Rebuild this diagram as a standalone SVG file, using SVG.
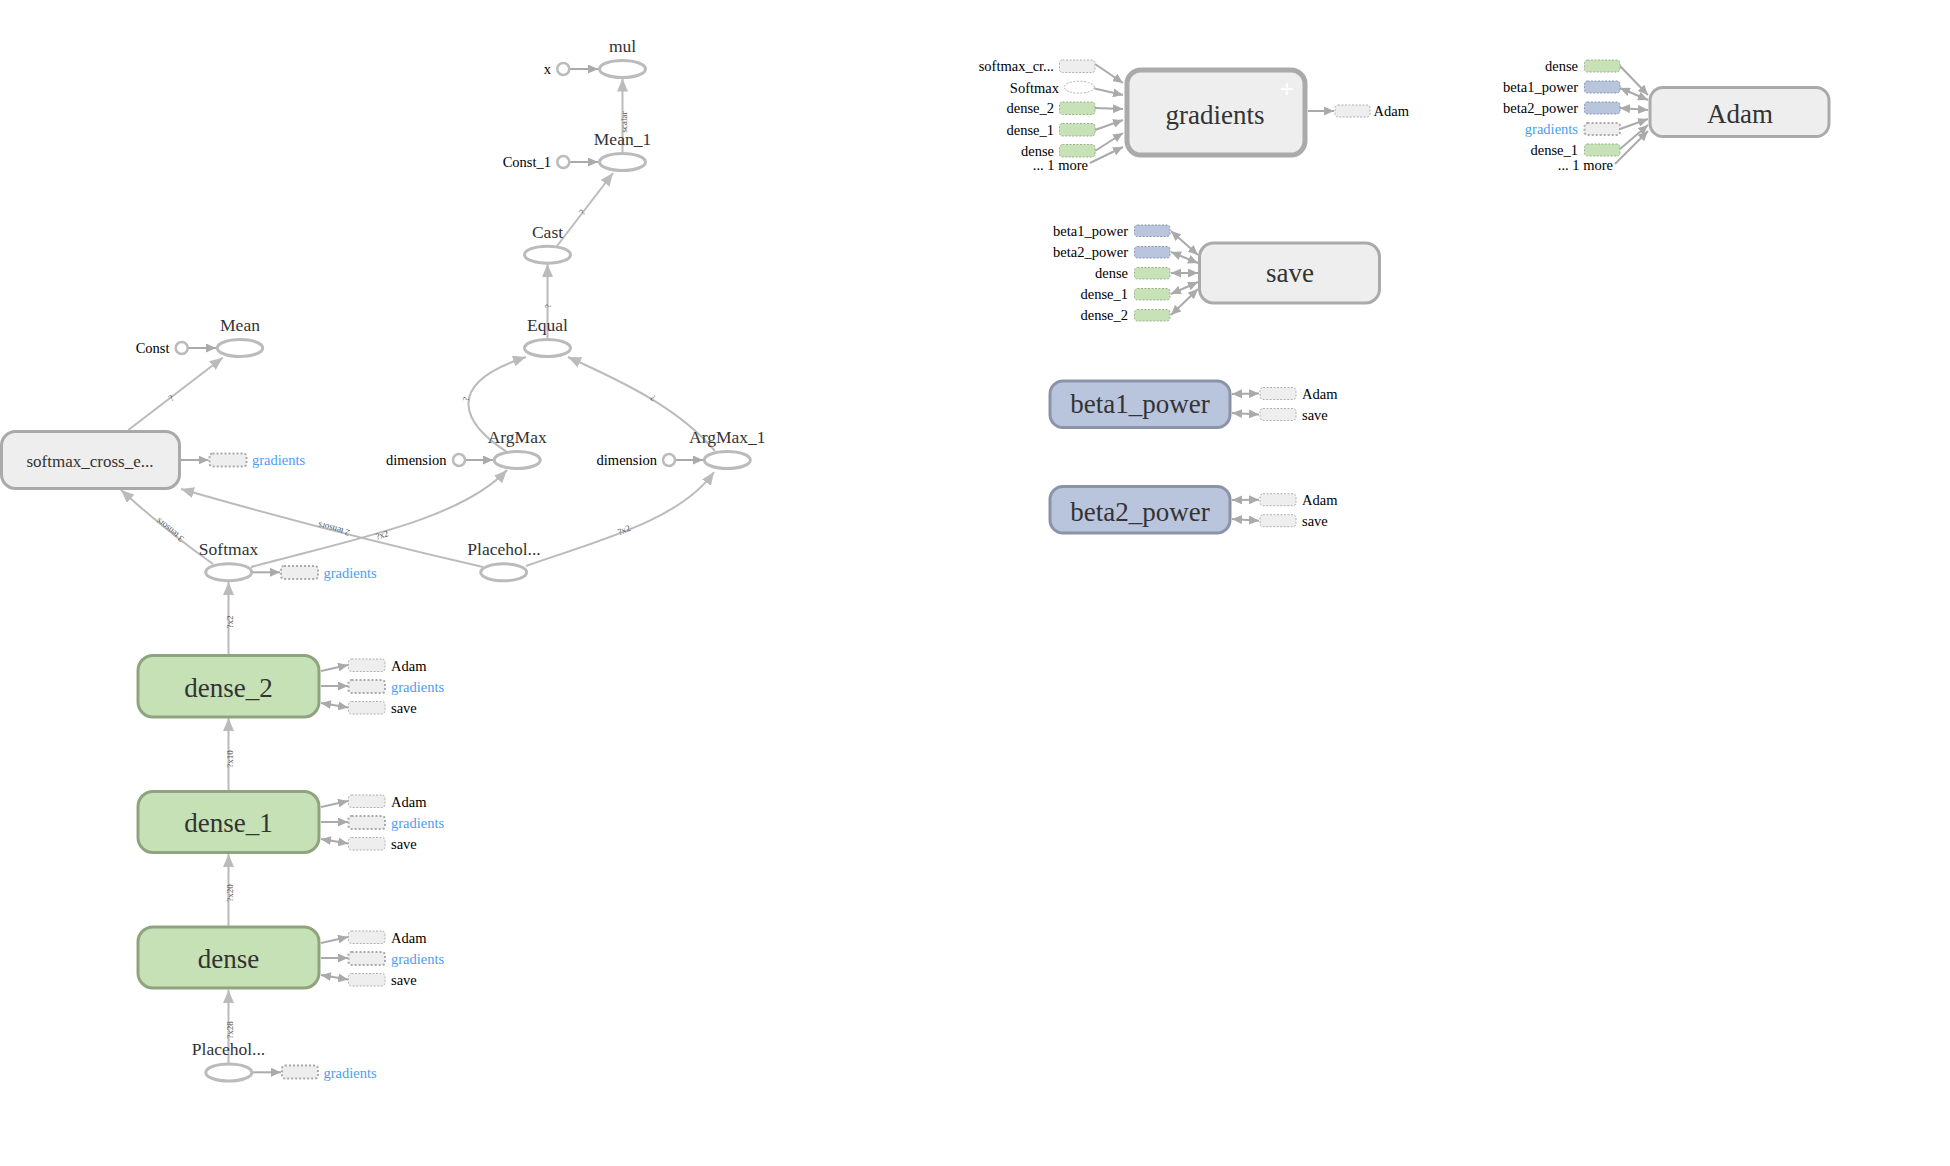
<svg xmlns="http://www.w3.org/2000/svg" width="1950" height="1166" viewBox="0 0 1950 1166">
<style>
text{font-family:"Liberation Serif","Times New Roman",serif}
.nl{font-size:17.5px;fill:#333;text-anchor:middle}
.bl{font-size:27px;fill:#333;text-anchor:middle}
.sl{font-size:14.5px;fill:#000}
.sr{font-size:14.5px;fill:#000;text-anchor:end}
.gb{fill:#4a9df7}
.el{font-size:9px;fill:#555;text-anchor:middle;dominant-baseline:central}
.e{fill:none;stroke:#bbb;stroke-width:2}
.es{fill:none;stroke:#aaa;stroke-width:2}
.op{fill:#fff;stroke:#bbb;stroke-width:3}
.cst{fill:#fff;stroke:#bbb;stroke-width:2.5}
.grey{fill:#eee;stroke:#aaa;stroke-width:3}
.green{fill:#c5e1b5;stroke:#8ea37e;stroke-width:3}
.blue{fill:#b9c4dd;stroke:#8a93a8;stroke-width:3}
.stub{fill:#eee;stroke:#b0b0b0;stroke-width:1;stroke-dasharray:2 1.5}
.stubg{fill:#eee;stroke:#aaa;stroke-width:2;stroke-dasharray:2 2}
.stubgr{fill:#c6e2b6;stroke:#9cb08e;stroke-width:1;stroke-dasharray:2 1.5}
.stubbl{fill:#b9c4dd;stroke:#8c96ae;stroke-width:1;stroke-dasharray:2 1.5}
</style>
<defs>
<marker id="ah" viewBox="0 0 10 10" refX="10" refY="5" markerWidth="13" markerHeight="11" markerUnits="userSpaceOnUse" orient="auto" preserveAspectRatio="none"><path d="M0,0 L10,5 L0,10 z" fill="#bbb"/></marker>
<marker id="as" viewBox="0 0 10 10" refX="10" refY="5" markerWidth="10" markerHeight="9" markerUnits="userSpaceOnUse" orient="auto-start-reverse" preserveAspectRatio="none"><path d="M0,0 L10,5 L0,10 z" fill="#aaa"/></marker>
</defs>
<rect width="1950" height="1166" fill="#fff"/>

<g id="connectors">
<path class="e" d="M622.5 153 L622.5 78.5" marker-end="url(#ah)"/>
<text class="el" transform="translate(624,122) rotate(-90)">scalar</text>
<path class="e" d="M557 246 L613 173" marker-end="url(#ah)"/>
<text class="el" transform="translate(582,212) rotate(-52)">?</text>
<path class="e" d="M547.5 339 L547.5 264" marker-end="url(#ah)"/>
<text class="el" transform="translate(548,306) rotate(-90)">?</text>
<path class="e" d="M507 452 C465 425,440 385,526 357" marker-end="url(#ah)"/>
<text class="el" transform="translate(466,399) rotate(-80)">?</text>
<path class="e" d="M715 451 C680 410,630 385,568 357" marker-end="url(#ah)"/>
<text class="el" transform="translate(653,398) rotate(-150)">?</text>
<path class="e" d="M128.3 430 L222.7 357.7" marker-end="url(#ah)"/>
<text class="el" transform="translate(171,398) rotate(-37)">?</text>
<path class="e" d="M213 564 Q165 530 121 490" marker-end="url(#ah)"/>
<text class="el" transform="translate(170,530) rotate(-141)">3 tensors</text>
<path class="e" d="M483 567 Q330 532 181 489" marker-end="url(#ah)"/>
<text class="el" transform="translate(334,529) rotate(-165)">2 tensors</text>
<path class="e" d="M251 567 C350 540,460 520,507 470" marker-end="url(#ah)"/>
<text class="el" transform="translate(382,535) rotate(-17)">?x2</text>
<path class="e" d="M526 566 C600 540,680 520,714 472" marker-end="url(#ah)"/>
<text class="el" transform="translate(624,530) rotate(-23)">?x2</text>
<path class="e" d="M228.5 654 L228.5 582" marker-end="url(#ah)"/>
<text class="el" transform="translate(230,622) rotate(-90)">?x2</text>
<path class="e" d="M228.5 790 L228.5 718" marker-end="url(#ah)"/>
<text class="el" transform="translate(230,759) rotate(-90)">?x10</text>
<path class="e" d="M228.5 926 L228.5 854" marker-end="url(#ah)"/>
<text class="el" transform="translate(230,893) rotate(-90)">?x20</text>
<path class="e" d="M228.5 1063 L228.5 990" marker-end="url(#ah)"/>
<text class="el" transform="translate(230,1030) rotate(-90)">?x28</text>
<path class="es" d="M569.5 69 L598 69" marker-end="url(#as)"/>
<path class="es" d="M569.5 162 L598 162" marker-end="url(#as)"/>
<path class="es" d="M188 348 L216 348" marker-end="url(#as)"/>
<path class="es" d="M465.5 460 L493 460" marker-end="url(#as)"/>
<path class="es" d="M675.5 460 L703 460" marker-end="url(#as)"/>
<path class="es" d="M181 460 L208.5 460" marker-end="url(#as)"/>
<path class="es" d="M252 572.3 L280 572.3" marker-end="url(#as)"/>
<path class="es" d="M252 1072.3 L281 1072.3" marker-end="url(#as)"/>
<path class="es" d="M321 671 L348 665" marker-end="url(#as)"/>
<path class="es" d="M321 686 L348 686" marker-end="url(#as)"/>
<path class="es" d="M321 703 L348 707.5" marker-start="url(#as)" marker-end="url(#as)"/>
<path class="es" d="M321 807 L348 801" marker-end="url(#as)"/>
<path class="es" d="M321 822 L348 822" marker-end="url(#as)"/>
<path class="es" d="M321 839 L348 843.5" marker-start="url(#as)" marker-end="url(#as)"/>
<path class="es" d="M321 943 L348 937" marker-end="url(#as)"/>
<path class="es" d="M321 958 L348 958" marker-end="url(#as)"/>
<path class="es" d="M321 975 L348 979.5" marker-start="url(#as)" marker-end="url(#as)"/>
<path class="es" d="M1095 64 L1123 83" marker-end="url(#as)"/>
<path class="es" d="M1094.5 88.5 L1123 95" marker-end="url(#as)"/>
<path class="es" d="M1095 108 L1123 109" marker-end="url(#as)"/>
<path class="es" d="M1095 130 L1123 120" marker-end="url(#as)"/>
<path class="es" d="M1095 151 L1123 133" marker-end="url(#as)"/>
<path class="es" d="M1090 163 L1123 147" marker-end="url(#as)"/>
<path class="es" d="M1308 111 L1334 111" marker-end="url(#as)"/>
<path class="es" d="M1620 66 L1648 95" marker-end="url(#as)"/>
<path class="es" d="M1620 88 L1648 100" marker-start="url(#as)" marker-end="url(#as)"/>
<path class="es" d="M1620 108 L1648 110" marker-start="url(#as)" marker-end="url(#as)"/>
<path class="es" d="M1620 129 L1648 119" marker-end="url(#as)"/>
<path class="es" d="M1620 149 L1648 125" marker-end="url(#as)"/>
<path class="es" d="M1615 164 L1648 131" marker-end="url(#as)"/>
<path class="es" d="M1171 231 L1198 255" marker-start="url(#as)" marker-end="url(#as)"/>
<path class="es" d="M1171 252 L1198 263" marker-start="url(#as)" marker-end="url(#as)"/>
<path class="es" d="M1171 273 L1198 273" marker-start="url(#as)" marker-end="url(#as)"/>
<path class="es" d="M1171 294 L1198 282" marker-start="url(#as)" marker-end="url(#as)"/>
<path class="es" d="M1171 315 L1198 289" marker-start="url(#as)" marker-end="url(#as)"/>
<path class="es" d="M1232 394 L1259 393.5" marker-start="url(#as)" marker-end="url(#as)"/>
<path class="es" d="M1232 413 L1259 414.5" marker-start="url(#as)" marker-end="url(#as)"/>
<path class="es" d="M1232 500 L1259 499.7" marker-start="url(#as)" marker-end="url(#as)"/>
<path class="es" d="M1232 519 L1259 520.7" marker-start="url(#as)" marker-end="url(#as)"/>
</g>

<g id="node-mul">
<ellipse class="op" cx="622.5" cy="69" rx="23" ry="8.5"/>
<text class="nl" x="622.5" y="51.5">mul</text>
<circle class="cst" cx="563.3" cy="69" r="6"/>
<text class="sr" x="551" y="74">x</text>
</g>
<g id="node-Mean_1">
<ellipse class="op" cx="622.5" cy="162" rx="23" ry="8.5"/>
<text class="nl" x="622.5" y="144.5">Mean_1</text>
<circle class="cst" cx="563.3" cy="162" r="6"/>
<text class="sr" x="551" y="167">Const_1</text>
</g>
<g id="node-Cast">
<ellipse class="op" cx="547.5" cy="254.7" rx="23" ry="8.5"/>
<text class="nl" x="547.5" y="237.5">Cast</text>
</g>
<g id="node-Equal">
<ellipse class="op" cx="547.5" cy="348" rx="23" ry="8.5"/>
<text class="nl" x="547.5" y="330.5">Equal</text>
</g>
<g id="node-Mean">
<ellipse class="op" cx="240" cy="348" rx="22.7" ry="8.5"/>
<text class="nl" x="240" y="330.5">Mean</text>
<circle class="cst" cx="181.7" cy="348" r="6"/>
<text class="sr" x="169.5" y="353">Const</text>
</g>
<g id="node-ArgMax">
<ellipse class="op" cx="517.2" cy="460" rx="23" ry="8.5"/>
<text class="nl" x="517.2" y="442.5">ArgMax</text>
<circle class="cst" cx="459" cy="460" r="6"/>
<text class="sr" x="446.5" y="465">dimension</text>
</g>
<g id="node-ArgMax_1">
<ellipse class="op" cx="727.3" cy="460" rx="23" ry="8.5"/>
<text class="nl" x="727.3" y="442.5">ArgMax_1</text>
<circle class="cst" cx="669" cy="460" r="6"/>
<text class="sr" x="657" y="465">dimension</text>
</g>
<g id="node-softmax_cross_entropy">
<rect class="grey" x="1.5" y="431.5" width="178" height="57" rx="14"/>
<text x="90" y="467" style="font-size:17px;fill:#333;text-anchor:middle">softmax_cross_e...</text>
<rect class="stubg" x="209.5" y="453.5" width="37" height="13" rx="3"/>
<text class="sl gb" x="252" y="465">gradients</text>
</g>
<g id="node-Softmax">
<ellipse class="op" cx="228.7" cy="572.2" rx="23" ry="8.5"/>
<text class="nl" x="228.5" y="554.8">Softmax</text>
<rect class="stubg" x="281" y="566" width="37" height="13" rx="3"/>
<text class="sl gb" x="323.5" y="577.5">gradients</text>
</g>
<g id="node-Placeholder_1">
<ellipse class="op" cx="503.7" cy="572.3" rx="23" ry="8.5"/>
<text class="nl" x="504" y="554.8">Placehol...</text>
</g>
<g id="node-dense_2">
<rect class="green" x="138" y="655.5" width="181" height="61.5" rx="15"/>
<text class="bl" x="228.5" y="697">dense_2</text>
<rect class="stub" x="348.5" y="659" width="36.5" height="12.5" rx="3"/>
<rect class="stubg" x="348.5" y="680" width="36.5" height="13" rx="3"/>
<rect class="stub" x="348.5" y="701.5" width="36.5" height="12.5" rx="3"/>
<text class="sl" x="391" y="670.5">Adam</text>
<text class="sl gb" x="391" y="691.5">gradients</text>
<text class="sl" x="391" y="712.5">save</text>
</g>
<g id="node-dense_1">
<rect class="green" x="138" y="791.5" width="181" height="61" rx="15"/>
<text class="bl" x="228.5" y="832">dense_1</text>
<rect class="stub" x="348.5" y="795" width="36.5" height="12.5" rx="3"/>
<rect class="stubg" x="348.5" y="816" width="36.5" height="13" rx="3"/>
<rect class="stub" x="348.5" y="837.5" width="36.5" height="12.5" rx="3"/>
<text class="sl" x="391" y="806.5">Adam</text>
<text class="sl gb" x="391" y="827.5">gradients</text>
<text class="sl" x="391" y="848.5">save</text>
</g>
<g id="node-dense">
<rect class="green" x="138" y="927" width="181" height="61" rx="15"/>
<text class="bl" x="228.5" y="968">dense</text>
<rect class="stub" x="348.5" y="931" width="36.5" height="12.5" rx="3"/>
<rect class="stubg" x="348.5" y="952" width="36.5" height="13" rx="3"/>
<rect class="stub" x="348.5" y="973.5" width="36.5" height="12.5" rx="3"/>
<text class="sl" x="391" y="942.5">Adam</text>
<text class="sl gb" x="391" y="963.5">gradients</text>
<text class="sl" x="391" y="984.5">save</text>
</g>
<g id="node-Placeholder">
<ellipse class="op" cx="228.8" cy="1072.5" rx="23" ry="8.5"/>
<text class="nl" x="228.5" y="1055">Placehol...</text>
<rect class="stubg" x="282" y="1065.5" width="36" height="13" rx="3"/>
<text class="sl gb" x="323.5" y="1077.5">gradients</text>
</g>

<g id="node-gradients">
<rect class="grey" x="1127" y="70" width="178" height="85" rx="14" style="stroke-width:5"/>
<text class="bl" x="1215" y="124">gradients</text>
<text x="1287" y="98" style="font-size:26px;font-weight:bold;fill:#fff;text-anchor:middle">+</text>
<rect class="stub" x="1059.5" y="60" width="35.5" height="12.5" rx="3"/>
<ellipse cx="1079.3" cy="87.2" rx="15" ry="6" style="fill:#fff;stroke:#b0b0b0;stroke-width:1;stroke-dasharray:2 1.5"/>
<rect class="stubgr" x="1059.5" y="102" width="35.5" height="12.5" rx="3"/>
<rect class="stubgr" x="1059.5" y="123.5" width="35.5" height="12.5" rx="3"/>
<rect class="stubgr" x="1059.5" y="144.5" width="35.5" height="12.5" rx="3"/>
<text class="sr" x="1054" y="71">softmax_cr...</text>
<text class="sr" x="1059" y="92.5">Softmax</text>
<text class="sr" x="1054" y="113">dense_2</text>
<text class="sr" x="1054" y="134.5">dense_1</text>
<text class="sr" x="1054" y="155.5">dense</text>
<text class="sr" x="1088" y="170">... 1 more</text>
<rect class="stub" x="1335" y="105" width="35" height="12" rx="3"/>
<text class="sl" x="1373.5" y="116">Adam</text>
</g>
<g id="node-Adam">
<rect class="grey" x="1650" y="87.5" width="179" height="49" rx="13"/>
<text class="bl" x="1740" y="123">Adam</text>
<rect class="stubgr" x="1584.5" y="60" width="35.5" height="12" rx="3"/>
<rect class="stubbl" x="1584.5" y="81" width="35.5" height="12" rx="3"/>
<rect class="stubbl" x="1584.5" y="102" width="35.5" height="12" rx="3"/>
<rect class="stubg" x="1584.5" y="123" width="35.5" height="12" rx="3"/>
<rect class="stubgr" x="1584.5" y="144" width="35.5" height="12" rx="3"/>
<text class="sr" x="1578" y="71">dense</text>
<text class="sr" x="1578" y="92">beta1_power</text>
<text class="sr" x="1578" y="113">beta2_power</text>
<text class="sr gb" x="1578" y="134">gradients</text>
<text class="sr" x="1578" y="155">dense_1</text>
<text class="sr" x="1613" y="170">... 1 more</text>
</g>
<g id="node-save">
<rect class="grey" x="1199.5" y="243" width="180" height="60" rx="14"/>
<text class="bl" x="1290" y="282">save</text>
<rect class="stubbl" x="1134.5" y="225" width="35.5" height="11.5" rx="3"/>
<rect class="stubbl" x="1134.5" y="246.5" width="35.5" height="11.5" rx="3"/>
<rect class="stubgr" x="1134.5" y="267.5" width="35.5" height="11.5" rx="3"/>
<rect class="stubgr" x="1134.5" y="288.5" width="35.5" height="11.5" rx="3"/>
<rect class="stubgr" x="1134.5" y="309.5" width="35.5" height="11.5" rx="3"/>
<text class="sr" x="1128" y="236">beta1_power</text>
<text class="sr" x="1128" y="257">beta2_power</text>
<text class="sr" x="1128" y="278">dense</text>
<text class="sr" x="1128" y="299">dense_1</text>
<text class="sr" x="1128" y="320">dense_2</text>
</g>
<g id="node-beta1_power">
<rect class="blue" x="1050" y="381" width="180" height="46.5" rx="13"/>
<text class="bl" x="1140" y="413">beta1_power</text>
<rect class="stub" x="1260" y="387.5" width="36" height="12" rx="3"/>
<rect class="stub" x="1260" y="408.5" width="36" height="12" rx="3"/>
<text class="sl" x="1302" y="398.5">Adam</text>
<text class="sl" x="1302" y="419.5">save</text>
</g>
<g id="node-beta2_power">
<rect class="blue" x="1050" y="486.5" width="180" height="46.5" rx="13"/>
<text class="bl" x="1140" y="520.5">beta2_power</text>
<rect class="stub" x="1260" y="493.7" width="36" height="12" rx="3"/>
<rect class="stub" x="1260" y="514.7" width="36" height="12" rx="3"/>
<text class="sl" x="1302" y="504.7">Adam</text>
<text class="sl" x="1302" y="525.7">save</text>
</g>
</svg>
